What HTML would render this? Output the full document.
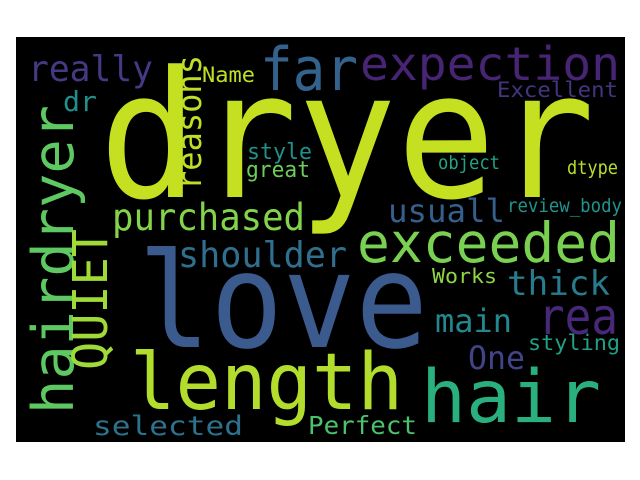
<!DOCTYPE html>
<html><head><meta charset="utf-8"><style>
html,body{margin:0;padding:0;background:#fff;}
svg{display:block;}
text{font-family:"DejaVu Sans Mono","Liberation Mono",monospace;}
</style></head><body>
<svg id="wc" width="640" height="480" viewBox="0 0 640 480" xmlns="http://www.w3.org/2000/svg">
<rect x="16" y="37" width="609" height="405" fill="#000"/>
<g id="words"></g>
</svg>
<script>
const words = ["dryer","love","length","hair","exceeded","expection","far","hairdryer","really","QUIET","purchased","shoulder","reasons","usuall","rea","thick","main","One","selected","Perfect","dr","great","style","Excellent","Works","styling","Name","dtype","object","review_body"];
const sizes = [176,132,78,73,55,46,60,57,36,48,37,36,34,32,50,34,32,32,27,25,28,22,22,21,20,21,21,19,19,19];
const colors = ["#c5e021","#3b5a8d","#b2dd2d","#2ab07f","#7ad151","#482475","#33638d","#5ec962","#443983","#a0da39","#84d44b","#30708e","#bddf26","#355f8d","#482878","#287c8e","#23888e","#414487","#2c728e","#4ac16d","#20908d","#6ccd5a","#21918c","#453581","#8ed645","#1fa187","#c2df23","#b8de29","#20a386","#1f948c"];
// layout: [x, baseline y, text length, rotated]
const layout = [[99,197,496,0],[138,347,290,0],[130,409,273,0],[421,422,180,0],[357,262,263,0],[360,80,260,0],[260,90,98,0],[73,414,309,1],[28,81,125,0],[107,370,141,1],[112,230,193,0],[178,267,169,0],[201,190,135,1],[388,222,117,0],[538,334,80,0],[507,295,103,0],[435,332,77,0],[468,369,57,0],[93,435,150,0],[308,434,109,0],[63,111,34,0],[246,177,64,0],[247,159,65,0],[497,97,121,0],[432,283,65,0],[528,350,92,0],[202,82,53,0],[567,174,51,0],[438,169,62,0],[507,212,115,0]];
const g = document.getElementById('words');
const NS = "http://www.w3.org/2000/svg";
for (let i = 0; i < words.length; i++) {
  const L = layout[i];
  const t = document.createElementNS(NS, 'text');
  
  
  t.setAttribute('font-size', sizes[i]);
  t.setAttribute('fill', colors[i]);
  t.setAttribute('textLength', L[2]);
  t.setAttribute('lengthAdjust', 'spacingAndGlyphs');
  if (L[3]) {
    t.setAttribute('transform', 'translate(' + L[0] + ',' + L[1] + ') rotate(-90)');
    t.setAttribute('x', 0); t.setAttribute('y', 0);
  } else {
    t.setAttribute('x', L[0]); t.setAttribute('y', L[1]);
  }
  t.textContent = words[i];
  g.appendChild(t);
}
</script>
</body></html>
